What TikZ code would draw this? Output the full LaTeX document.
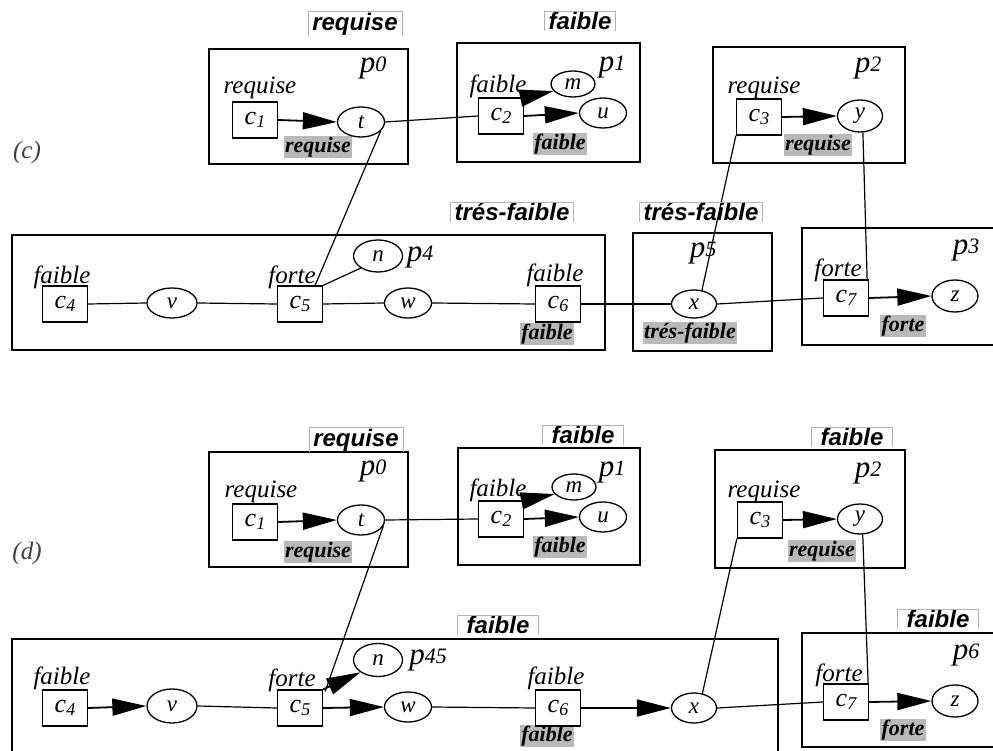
\documentclass[tikz,border=0pt]{standalone}
\usepackage{fontspec}
\setmainfont{Liberation Serif}
\newfontfamily\hdrfont{Liberation Sans}
\usetikzlibrary{arrows.meta,shapes.geometric}
\newcommand\cname[1]{{\fontsize{26}{26}\selectfont\itshape c\raisebox{-0.3ex}{\fontsize{18}{18}\selectfont #1}}}
\newcommand\pname[1]{{\fontsize{31}{31}\selectfont\itshape p\raisebox{0.05ex}{\fontsize{22}{22}\selectfont #1}}}
\tikzset{
  part/.style={draw, line width=2.4pt},
  cbox/.style={draw, fill=white, line width=1.3pt, minimum width=45pt, minimum height=36pt, inner sep=0pt},
  var/.style={draw, fill=white, ellipse, line width=1.3pt, minimum width=47pt, minimum height=30pt, inner sep=0pt, font=\fontsize{23}{23}\selectfont\itshape},
  smallvar/.style={var, minimum width=44pt, minimum height=26pt},
  lab/.style={font=\fontsize{25}{25}\selectfont\itshape, inner sep=0pt},
  plab/.style={inner sep=0pt},
  shade/.style={fill=gray!55, inner sep=1.2pt, font=\fontsize{22}{22}\selectfont\bfseries\itshape},
  hdr/.style={font=\hdrfont\fontsize{24}{24}\selectfont\bfseries\itshape, inner xsep=4pt, inner ysep=1pt},
  widehdr/.style={hdr, inner xsep=9pt},
  hframe/.style={draw=gray!60, line width=0.7pt},
  link/.style={line width=1.2pt},
  arr/.style={line width=1.8pt, -{Triangle[length=34pt,width=17pt]}},
}
\begin{document}
\begin{tikzpicture}[x=1pt,y=-1pt]
\useasboundingbox (0,0) rectangle (993,751);
\clip (0,0) rectangle (993,751);
\fill[white] (0,0) rectangle (993,751);

% ---------------- (c) ----------------
\node[lab, text=black!75] (labc) at (27,152) {(c)};

% p0
\draw[part] (209,49) rectangle (408,164);
\node[hdr] (h0c) at (355,24) {requise};
\node[plab] (p0c) at (373,68) {\pname{0}};
\node[lab] (r1c) at (260,88) {requise};
\node[shade] (s1c) at (318,147) {requise};
\node[cbox] (c1c) at (255,120) {\cname{1}};
\node[var] (tc) at (361,122) {t};

% p1
\draw[part] (457,43) rectangle (640,162);
\node[hdr] (h1c) at (580,21) {faible};
\node[plab] (p1c) at (612,67) {\pname{1}};
\node[lab] (f2c) at (498,86) {faible};
\node[shade] (s2c) at (560,144) {faible};
\node[cbox] (c2c) at (501,116) {\cname{2}};
\node[smallvar] (mc) at (573,84) {m};
\node[var] (uc) at (603,113) {u};

% p2
\draw[part] (713,47) rectangle (905,163);
\node[plab] (p2c) at (868,68) {\pname{2}};
\node[lab] (r3c) at (764,88) {requise};
\node[shade] (s3c) at (818,145) {requise};
\node[cbox] (c3c) at (759,117) {\cname{3}};
\node[var, minimum width=45pt, minimum height=32pt] (yc) at (860,116) {y};

% second row
\node[hdr] (h4c) at (512,212) {trés-faible};
\node[hdr] (h5c) at (701,212) {trés-faible};
\draw[part] (12,235) rectangle (605,350);
\draw[part] (633,233) rectangle (772,351);
\draw[part] (802,228) rectangle (1005,345);
\node[lab] (f4c) at (62,277) {faible};
\node[cbox] (c4c) at (65,304) {\cname{4}};
\node[var, minimum width=50pt] (vc) at (172,303) {v};
\node[lab] (f5c) at (292,277) {forte};
\node[cbox] (c5c) at (300,304) {\cname{5}};
\node[var, minimum width=49pt, minimum height=32pt] (nc) at (378,256) {n};
\node[plab] (p4c) at (420,257) {\pname{4}};
\node[var] (wc) at (408,303) {w};
\node[lab] (f6c) at (555,275) {faible};
\node[shade] (s6c) at (547,334) {faible};
\node[cbox] (c6c) at (558,304) {\cname{6}};
\node[plab] (p5c) at (703,253) {\pname{5}};
\node[shade] (s5c) at (690,333) {trés-faible};
\node[var, minimum width=45pt, minimum height=28pt] (xc) at (694,304) {x};
\node[plab] (p3c) at (966,250) {\pname{3}};
\node[lab] (f7c) at (838,270) {forte};
\node[shade] (s7c) at (903,326) {forte};
\node[cbox] (c7c) at (846,298) {\cname{7}};
\node[var, minimum width=46pt, minimum height=32pt] (zc) at (955,296) {z};

% connectors (c)
\draw[arr] (c1c.east) -- (tc.west);
\draw[link] (tc.east) -- (c2c.west);
\draw[arr] (c2c.north east) -- (mc.200);
\draw[arr] (c2c.east) -- (uc.west);
\draw[arr] (c3c.east) -- (yc.west);
\draw[link] (tc.-25) -- ([xshift=-8pt]c5c.north east);
\draw[link] (c4c.east) -- (vc.west);
\draw[link] (vc.east) -- (c5c.west);
\draw[link] (c5c.north east) -- (nc.215);
\draw[link] (c5c.east) -- (wc.west);
\draw[link] (wc.east) -- (c6c.west);
\draw[link] (c6c.east) -- (xc.west);
\draw[link] (xc.east) -- (c7c.west);
\draw[arr] (c7c.east) -- (zc.west);
\draw[link] (c3c.south west) -- (xc.60);
\draw[link] (yc.-80) -- ([xshift=-2pt]c7c.north east);

% ---------------- (d) ----------------
\node[lab, text=black!75] (labd) at (27,553) {(d)};

% p0
\draw[part] (209,452) rectangle (408,567);
\node[hdr] (h0d) at (356,440) {requise};
\node[plab] (p0d) at (373,471) {\pname{0}};
\node[lab] (r1d) at (261,492) {requise};
\node[shade] (s1d) at (318,552) {requise};
\node[cbox] (c1d) at (255,522) {\cname{1}};
\node[var] (td) at (361,520) {t};

% p1
\draw[part] (458,448) rectangle (640,565);
\node[widehdr] (h1d) at (583,435) {faible};
\node[plab] (p1d) at (612,472) {\pname{1}};
\node[lab] (f2d) at (498,490) {faible};
\node[shade] (s2d) at (560,547) {faible};
\node[cbox] (c2d) at (501,519) {\cname{2}};
\node[smallvar] (md) at (574,487) {m};
\node[var] (ud) at (603,517) {u};

% p2
\draw[part] (715,450) rectangle (905,568);
\node[widehdr] (h2d) at (852,437) {faible};
\node[plab] (p2d) at (868,473) {\pname{2}};
\node[lab] (r3d) at (764,492) {requise};
\node[shade] (s3d) at (822,551) {requise};
\node[cbox] (c3d) at (760,520) {\cname{3}};
\node[var, minimum width=45pt, minimum height=30pt] (yd) at (860,519) {y};

% bottom row
\node[widehdr] (h45d) at (498,625) {faible};
\draw[part] (12,639) rectangle (778,800);
\node[widehdr] (h6d) at (938,619) {faible};
\draw[part] (802,633) rectangle (1005,747);
\node[lab] (f4d) at (62,678) {faible};
\node[cbox] (c4d) at (65,708) {\cname{4}};
\node[var, minimum width=50pt, minimum height=34pt] (vd) at (172,706) {v};
\node[lab] (f5d) at (292,680) {forte};
\node[cbox] (c5d) at (300,708) {\cname{5}};
\node[var, minimum width=49pt, minimum height=33pt] (nd) at (378,660) {n};
\node[plab] (p45d) at (428,660) {\pname{45}};
\node[var] (wd) at (408,707) {w};
\node[lab] (f6d) at (556,678) {faible};
\node[shade] (s6d) at (547,736) {faible};
\node[cbox] (c6d) at (558,708) {\cname{6}};
\node[var, minimum width=45pt, minimum height=30pt] (xd) at (694,708) {x};
\node[plab] (p6d) at (966,655) {\pname{6}};
\node[lab] (f7d) at (839,675) {forte};
\node[shade] (s7d) at (903,730) {forte};
\node[cbox] (c7d) at (846,702) {\cname{7}};
\node[var, minimum width=46pt, minimum height=32pt] (zd) at (955,701) {z};

% connectors (d)
\draw[arr] (c1d.east) -- (td.west);
\draw[link] (td.east) -- (c2d.west);
\draw[arr] (c2d.north east) -- (md.200);
\draw[arr] (c2d.east) -- (ud.west);
\draw[arr] (c3d.east) -- (yd.west);
\draw[link] (td.-15) -- ([xshift=2pt,yshift=-2pt]c5d.north east);
\draw[arr] (c4d.east) -- (vd.west);
\draw[link] (vd.east) -- (c5d.west);
\draw[arr] (c5d.north east) -- (nd.215);
\draw[arr] (c5d.east) -- (wd.west);
\draw[link] (wd.east) -- (c6d.west);
\draw[arr] (c6d.east) -- (xd.west);
\draw[link] (xd.east) -- (c7d.west);
\draw[arr] (c7d.east) -- (zd.west);
\draw[link] (c3d.south west) -- (xd.60);
\draw[link] (yd.-80) -- ([xshift=-1pt]c7d.north east);

% header frames
\foreach \h in {h0c,h1c,h4c,h5c,h0d,h1d,h2d,h45d,h6d}
  \draw[hframe] (\h.south west) |- (\h.north east) -- (\h.south east);
\end{tikzpicture}
\end{document}
